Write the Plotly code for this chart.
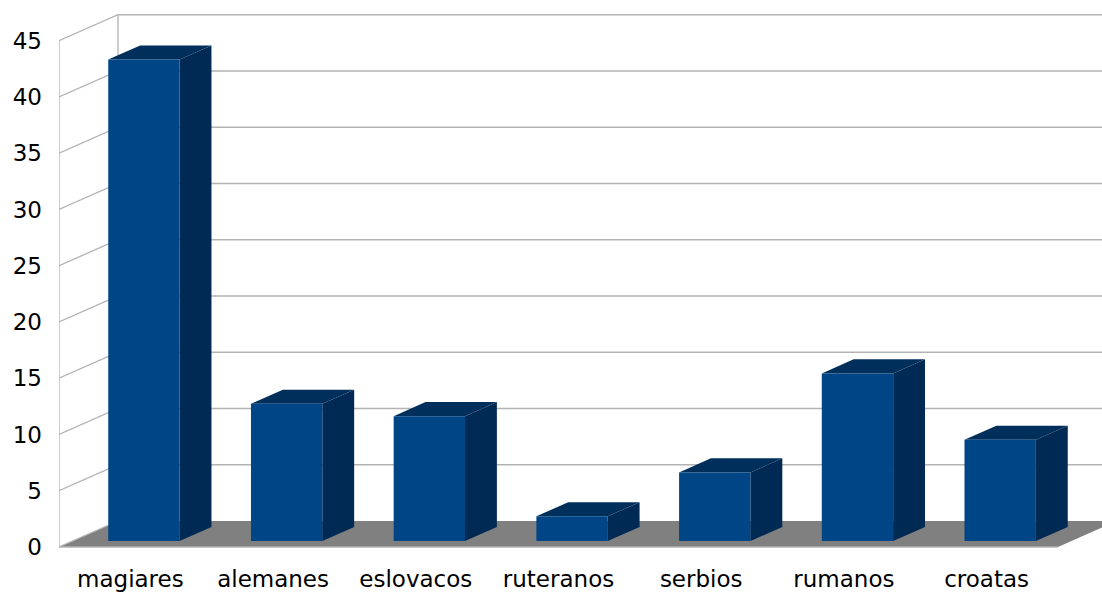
import plotly.graph_objects as go

categories = ["magiares", "alemanes", "eslovacos", "ruteranos", "serbios", "rumanos", "croatas"]
values = [42.8, 12.2, 11.1, 2.2, 6.1, 14.9, 9.0]
y_ticks = [0, 5, 10, 15, 20, 25, 30, 35, 40, 45]

# projection / style constants (data units)
DX = 0.4134      # horizontal depth offset (category units)
DY = 2.311       # vertical depth offset (value units)
F_FRONT = 0.23   # bar front depth fraction
F_BACK = 0.77    # bar back depth fraction
BAR_W = 0.5
X_MAX = 7.3085
Y_MIN, Y_MAX = -0.0889, 48.622
GRID = "#b3b3b3"
FLOOR = "#808080"
FRONT = "#004586"
TOP = "#002f5c"
SIDE = "#002a54"
FONT = "DejaVu Sans, Liberation Sans, Arial, sans-serif"

fig = go.Figure()

def poly(xs, ys, color):
    fig.add_trace(go.Scatter(x=xs + [xs[0]], y=ys + [ys[0]], mode="lines", fill="toself",
                             fillcolor=color, line=dict(width=0, color=color),
                             hoverinfo="skip", showlegend=False))

def line(xs, ys, color=GRID, w=1.3):
    fig.add_trace(go.Scatter(x=xs, y=ys, mode="lines", line=dict(width=w, color=color),
                             hoverinfo="skip", showlegend=False))

n = len(categories)
# back wall + side wall gridlines
for v in y_ticks[1:]:
    line([0, DX, X_MAX + 1], [v, v + DY, v + DY])
# wall vertical edges
line([DX, DX], [DY, y_ticks[-1] + DY])
line([0, 0], [0, y_ticks[-1]])

# floor
poly([0, n, n + DX, DX], [0, 0, DY, DY], FLOOR)
line([0, n], [0, 0])
line([0, DX], [0, DY])

# bars
for i, h in enumerate(values):
    x0 = i + 0.5 - BAR_W / 2 + F_FRONT * DX
    x1 = i + 0.5 + BAR_W / 2 + F_FRONT * DX
    y0 = F_FRONT * DY
    y1 = h + F_FRONT * DY
    ddx = (F_BACK - F_FRONT) * DX
    ddy = (F_BACK - F_FRONT) * DY
    poly([x1, x1 + ddx, x1 + ddx, x1], [y0, y0 + ddy, y1 + ddy, y1], SIDE)
    poly([x0, x1, x1 + ddx, x0 + ddx], [y1, y1, y1 + ddy, y1 + ddy], TOP)
    poly([x0, x1, x1, x0], [y0, y0, y1, y1], FRONT)

fig.update_layout(
    width=1102, height=594,
    margin=dict(l=59, r=0, t=0, b=46, autoexpand=False),
    paper_bgcolor="white", plot_bgcolor="white",
    hovermode=False, showlegend=False,
    font=dict(family=FONT, size=23, color="black"),
    xaxis=dict(range=[0, X_MAX], showgrid=False, zeroline=False, showline=False,
               automargin=False,
               tickmode="array", tickvals=[i + 0.5 for i in range(n)], ticktext=categories,
               ticks="", ticklabelstandoff=15, tickfont=dict(family=FONT, size=23, color="black"),
               fixedrange=True),
    yaxis=dict(range=[Y_MIN, Y_MAX], showgrid=False, zeroline=False, showline=False,
               automargin=False,
               tickmode="array", tickvals=y_ticks, ticktext=[str(t) for t in y_ticks],
               ticks="", ticklabelstandoff=16, tickfont=dict(family=FONT, size=23, color="black"),
               fixedrange=True),
)

fig.write_html("out.html")
